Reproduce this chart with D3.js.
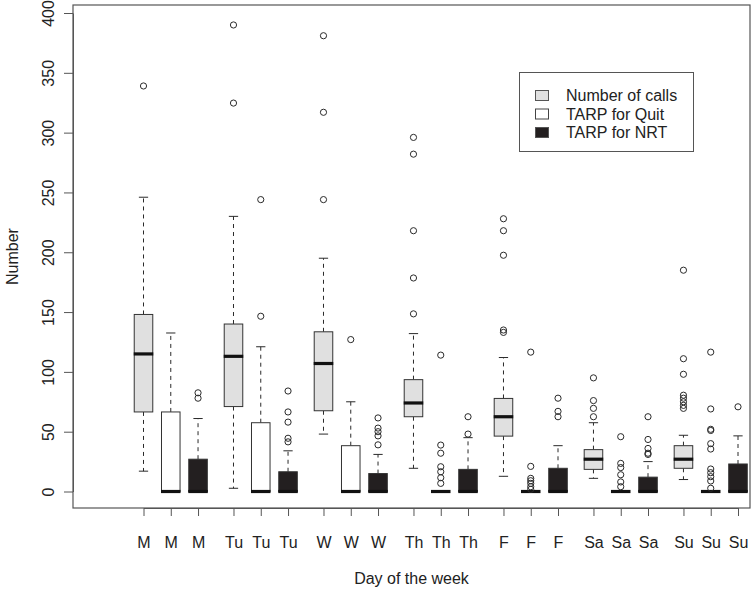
<!DOCTYPE html>
<html>
<head>
<meta charset="utf-8">
<script src="https://cdn.jsdelivr.net/npm/d3@7"></script>
<style>
  html, body { margin: 0; padding: 0; background: #fff; }
  svg { display: block; font-family: "Liberation Sans", Arial, Helvetica, sans-serif; }
</style>
</head>
<body>
<svg id="chart" width="753" height="589"></svg>
<script>
// ---------------- DATA ----------------
const days = ["M", "Tu", "W", "Th", "F", "Sa", "Su"];
const seriesNames = ["Number of calls", "TARP for Quit", "TARP for NRT"];
const yTicks = [0, 50, 100, 150, 200, 250, 300, 350, 400];

// [lower whisker, Q1, median, Q3, upper whisker] per day
const callsStats = [
  [17, 66.5, 115, 148, 246],
  [2.7, 71, 113, 140, 230],
  [48, 67.5, 107, 133.5, 195],
  [19.4, 62.5, 74, 93.5, 132],
  [12.7, 46.3, 62.5, 77.8, 112],
  [11, 18.5, 27, 35, 57.5],
  [10, 19.4, 27, 38.3, 47]
];
const callsOutliers = [
  [339],
  [324.7, 390],
  [244, 317, 381],
  [148.5, 178.5, 218, 282, 296],
  [133, 135, 197.5, 218, 228],
  [62.5, 69.5, 76, 95],
  [69.5, 72, 75, 78, 80.5, 98, 111, 185]
];
const quitStats = [
  [0, 0, 0, 66.5, 132.5],
  [0, 0, 0, 57.5, 121],
  [0, 0, 0, 38.3, 75],
  [0, 0, 0, 0, 0],
  [0, 0, 0, 0, 0],
  [0, 0, 0, 0, 0],
  [0, 0, 0, 0, 0]
];
const quitOutliers = [
  [],
  [146.5, 244],
  [127],
  [6.8, 11.5, 16.5, 20.7, 32, 38.8, 114],
  [1.8, 4, 6.8, 9, 11, 21, 116.5],
  [4, 8, 14, 20, 23.5, 45.8],
  [2.7, 8.8, 12.4, 15.7, 18.8, 35.5, 40, 51, 52, 69, 116.5]
];
const nrtStats = [
  [0, 0, 0, 27, 61],
  [0, 0, 0, 16.5, 34],
  [0, 0, 0, 15, 31],
  [0, 0, 0, 18.5, 45],
  [0, 0, 0, 19.4, 38.3],
  [0, 0, 0, 12, 25],
  [0, 0, 0, 23, 46.5]
];
const nrtOutliers = [
  [78, 82.5],
  [41.5, 44.5, 58, 66.5, 84],
  [39, 46.5, 50, 53, 61.5],
  [48, 62.5],
  [62.5, 67, 78],
  [31, 32, 36, 43.5, 62.5],
  [70.8]
];
const seriesFill = ["#e0e0e0", "#ffffff", "#231f20"];

// ---------------- LAYOUT ----------------
const svg = d3.select("#chart");
const frame = { left: 73, right: 750, top: 5, bottom: 508 };
const groupStep = 3.3;     // position units between day groups
const boxW = 0.68;         // box width in position units

const statsBySeries = [callsStats, quitStats, nrtStats];
const outBySeries = [callsOutliers, quitOutliers, nrtOutliers];

const boxes = [];
days.forEach((d, g) => {
  seriesNames.forEach((s, j) => {
    const st = statsBySeries[j][g];
    boxes.push({
      day: d, series: j, pos: g * groupStep + j,
      lo: st[0], q1: st[1], med: st[2], q3: st[3], hi: st[4],
      out: outBySeries[j][g]
    });
  });
});

const lastPos = (days.length - 1) * groupStep + 2;
const x = d3.scaleLinear().domain([0, lastPos]).range([143.5, 738]);
const y = d3.scaleLinear().domain([0, 400]).range([491.5, 13]);
const halfW = (x(boxW) - x(0)) / 2;

const axisColor = "#555";
const inkColor = "#2a2a2a";

// plot frame
svg.append("rect")
  .attr("x", frame.left).attr("y", frame.top)
  .attr("width", frame.right - frame.left).attr("height", frame.bottom - frame.top)
  .attr("fill", "none").attr("stroke", axisColor).attr("stroke-width", 1.2);

// y axis
const yAxis = svg.append("g")
  .attr("transform", `translate(${frame.left},0)`)
  .call(d3.axisLeft(y).tickValues(yTicks).tickSize(9).tickSizeOuter(0).tickFormat(d3.format("d")));
yAxis.select(".domain").attr("stroke", axisColor);
yAxis.selectAll(".tick line").attr("stroke", axisColor);
yAxis.selectAll(".tick text")
  .attr("x", 0).attr("y", -25).attr("dy", null)
  .attr("transform", "rotate(-90)")
  .attr("text-anchor", "middle")
  .attr("dominant-baseline", "central")
  .attr("font-size", 16).attr("fill", "#222")
  .attr("font-family", "Liberation Sans, Arial, sans-serif");

// x axis
const xAxis = svg.append("g")
  .attr("transform", `translate(0,${frame.bottom})`)
  .call(d3.axisBottom(x).tickValues(boxes.map(b => b.pos)).tickSize(8).tickSizeOuter(0)
    .tickFormat((v, i) => boxes[i].day));
xAxis.select(".domain").attr("stroke", axisColor);
xAxis.selectAll(".tick line").attr("stroke", axisColor);
xAxis.selectAll(".tick text")
  .attr("y", 34).attr("dy", null)
  .attr("dominant-baseline", "central")
  .attr("font-size", 16).attr("fill", "#222")
  .attr("font-family", "Liberation Sans, Arial, sans-serif");

// axis titles
svg.append("text")
  .attr("transform", `translate(12,${(frame.top + frame.bottom) / 2}) rotate(-90)`)
  .attr("text-anchor", "middle").attr("dominant-baseline", "central")
  .attr("font-size", 16).attr("fill", "#222").text("Number");
svg.append("text")
  .attr("x", (frame.left + frame.right) / 2).attr("y", 578)
  .attr("text-anchor", "middle").attr("dominant-baseline", "central")
  .attr("font-size", 16).attr("fill", "#222").text("Day of the week");

// boxplots
const gBox = svg.append("g");
boxes.forEach(b => {
  const cx = x(b.pos);
  const g = gBox.append("g");
  // whiskers (dashed)
  if (b.hi > b.q3) {
    g.append("line").attr("x1", cx).attr("x2", cx).attr("y1", y(b.q3)).attr("y2", y(b.hi))
      .attr("stroke", inkColor).attr("stroke-dasharray", "4,4");
    g.append("line").attr("x1", cx - halfW / 2).attr("x2", cx + halfW / 2)
      .attr("y1", y(b.hi)).attr("y2", y(b.hi)).attr("stroke", inkColor);
  }
  if (b.lo < b.q1) {
    g.append("line").attr("x1", cx).attr("x2", cx).attr("y1", y(b.q1)).attr("y2", y(b.lo))
      .attr("stroke", inkColor).attr("stroke-dasharray", "4,4");
    g.append("line").attr("x1", cx - halfW / 2).attr("x2", cx + halfW / 2)
      .attr("y1", y(b.lo)).attr("y2", y(b.lo)).attr("stroke", inkColor);
  }
  // box
  g.append("rect")
    .attr("x", cx - halfW).attr("width", 2 * halfW)
    .attr("y", y(b.q3)).attr("height", Math.max(0, y(b.q1) - y(b.q3)))
    .attr("fill", seriesFill[b.series]).attr("stroke", "#333").attr("stroke-width", 1);
  // median
  g.append("line")
    .attr("x1", cx - halfW - 0.5).attr("x2", cx + halfW + 0.5)
    .attr("y1", y(b.med)).attr("y2", y(b.med))
    .attr("stroke", "#111").attr("stroke-width", 3.2);
  // outliers
  g.selectAll("circle").data(b.out).enter().append("circle")
    .attr("cx", cx).attr("cy", v => y(v)).attr("r", 3.1)
    .attr("fill", "none").attr("stroke", inkColor).attr("stroke-width", 1);
});

// legend
const leg = svg.append("g");
leg.append("rect").attr("x", 519.5).attr("y", 72.5).attr("width", 174).attr("height", 79)
  .attr("fill", "#fff").attr("stroke", axisColor).attr("stroke-width", 1);
const rowY = [95.5, 114, 132.5];
seriesNames.forEach((s, i) => {
  leg.append("rect").attr("x", 535.5).attr("y", rowY[i] - 5).attr("width", 13).attr("height", 10)
    .attr("fill", seriesFill[i]).attr("stroke", i === 1 ? "#444" : "#555").attr("stroke-width", 1);
  leg.append("text").attr("x", 566).attr("y", rowY[i])
    .attr("dominant-baseline", "central").attr("font-size", 16).attr("fill", "#222").text(s);
});
</script>
</body>
</html>
